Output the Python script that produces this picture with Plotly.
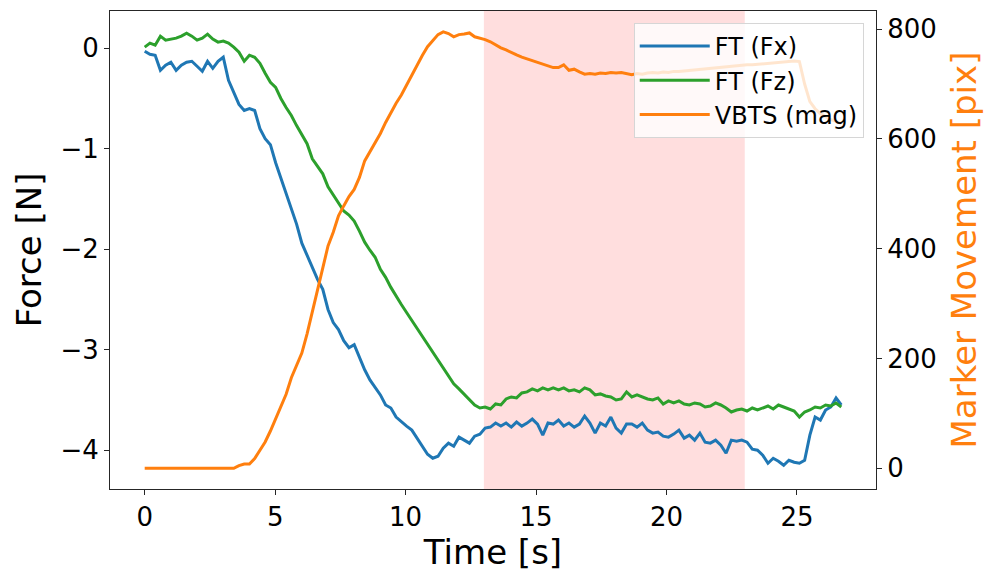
import numpy as np
import plotly.graph_objects as go

# Sample times [s], one every ~0.2 s over the recording
time_s = np.linspace(0.0, 26.7, 134)

# Force/torque sensor, x component [N]
fx = [
    -0.03, -0.06, -0.07, -0.22, -0.17, -0.14, -0.22, -0.17, -0.14, -0.13,
    -0.18, -0.23, -0.13, -0.20, -0.13, -0.09, -0.32, -0.45, -0.56, -0.62,
    -0.60, -0.62, -0.80, -0.90, -0.96, -1.14, -1.29, -1.45, -1.61, -1.75,
    -1.94, -2.06, -2.17, -2.30, -2.40, -2.60, -2.73, -2.80, -2.91, -2.98,
    -2.95, -3.08, -3.20, -3.30, -3.38, -3.45, -3.55, -3.58, -3.67, -3.72,
    -3.76, -3.80, -3.88, -3.97, -4.04, -4.08, -4.06, -3.98, -3.93, -3.96,
    -3.87, -3.90, -3.93, -3.86, -3.84, -3.78, -3.77, -3.73, -3.76, -3.73,
    -3.77, -3.72, -3.76, -3.73, -3.69, -3.74, -3.85, -3.73, -3.74, -3.70,
    -3.76, -3.73, -3.77, -3.74, -3.66, -3.73, -3.83, -3.73, -3.76, -3.67,
    -3.78, -3.83, -3.74, -3.74, -3.77, -3.73, -3.80, -3.83, -3.82, -3.86,
    -3.87, -3.84, -3.80, -3.88, -3.85, -3.90, -3.83, -3.92, -3.93, -3.90,
    -3.95, -4.03, -3.90, -3.91, -3.90, -3.92, -3.99, -4.00, -4.05, -4.13,
    -4.08, -4.11, -4.15, -4.10, -4.12, -4.13, -4.10, -3.85, -3.67, -3.70,
    -3.60, -3.57, -3.48, -3.55,
]

# Force/torque sensor, z component [N]
fz = [
    0.01, 0.05, 0.03, 0.12, 0.08, 0.09, 0.10, 0.12, 0.15, 0.12,
    0.08, 0.10, 0.14, 0.09, 0.06, 0.07, 0.05, 0.01, -0.04, -0.13,
    -0.07, -0.09, -0.15, -0.25, -0.34, -0.39, -0.50, -0.59, -0.67, -0.77,
    -0.86, -0.95, -1.10, -1.18, -1.25, -1.38, -1.46, -1.55, -1.62, -1.66,
    -1.72, -1.82, -1.93, -2.01, -2.08, -2.20, -2.28, -2.38, -2.47, -2.55,
    -2.63, -2.71, -2.79, -2.87, -2.95, -3.02, -3.10, -3.18, -3.26, -3.34,
    -3.39, -3.44, -3.50, -3.55, -3.58, -3.57, -3.59, -3.54, -3.55, -3.49,
    -3.47, -3.48, -3.43, -3.42, -3.39, -3.41, -3.38, -3.40, -3.38, -3.40,
    -3.38, -3.41, -3.40, -3.42, -3.38, -3.40, -3.45, -3.44, -3.46, -3.47,
    -3.50, -3.49, -3.42, -3.47, -3.45, -3.47, -3.49, -3.50, -3.48, -3.54,
    -3.51, -3.53, -3.51, -3.54, -3.55, -3.53, -3.54, -3.57, -3.56, -3.53,
    -3.55, -3.58, -3.62, -3.60, -3.59, -3.61, -3.58, -3.60, -3.58, -3.56,
    -3.59, -3.55, -3.57, -3.59, -3.61, -3.67, -3.62, -3.60, -3.57, -3.58,
    -3.55, -3.56, -3.53, -3.57,
]

# Vision-based tactile sensor, marker displacement magnitude [pix]
vbts_mag = [
    0, 0, 0, 0, 0, 0, 0, 0, 0, 0,
    0, 0, 0, 0, 0, 0, 0, 0, 5, 8,
    8, 18, 33, 48, 68, 90, 110, 135, 165, 188,
    210, 245, 285, 325, 365, 405, 430, 460, 478, 495,
    508, 530, 560, 577, 592, 610, 630, 648, 665, 680,
    698, 716, 735, 752, 768, 780, 790, 795, 792, 786,
    790, 791, 793, 786, 784, 781, 777, 771, 766, 762,
    757, 753, 749, 746, 742, 740, 736, 733, 730, 730,
    735, 725, 727, 722, 718, 719, 718, 720, 719, 721,
    720, 721, 719, 717, 719, 718, 720, 721, 720, 722,
    721, 723, 723, 724, 725, 725, 726, 727, 728, 729,
    730, 731, 733, 733, 734, 735, 735, 736, 737, 737,
    738, 739, 741, 742, 742, 741, 700, 668, 655, 646,
    640, 635, 632, 628,
]

# Highlighted time window [s]
window = (13.0, 23.0)

BLUE, GREEN, ORANGE = "#1f77b4", "#2ca02c", "#ff7f0e"
FONT = "DejaVu Sans"
AXIS_COLOR = "#262626"

fig = go.Figure()
fig.add_trace(go.Scatter(x=time_s, y=fx, name="FT (Fx)", mode="lines",
                         line=dict(color=BLUE, width=3)))
fig.add_trace(go.Scatter(x=time_s, y=fz, name="FT (Fz)", mode="lines",
                         line=dict(color=GREEN, width=3)))
fig.add_trace(go.Scatter(x=time_s, y=vbts_mag, name="VBTS (mag)", mode="lines",
                         yaxis="y2", line=dict(color=ORANGE, width=3)))

fig.add_shape(type="rect", xref="x", yref="paper",
              x0=window[0], x1=window[1], y0=0, y1=1,
              fillcolor="rgba(255,0,0,0.13)", line=dict(width=0), layer="below")

axis_common = dict(
    showgrid=False, zeroline=False, showline=True, linecolor=AXIS_COLOR,
    linewidth=1, ticks="outside", ticklen=5, tickwidth=1, tickcolor=AXIS_COLOR,
    tickfont=dict(family=FONT, size=26, color="black"),
)

fig.update_layout(
    width=987, height=572,
    margin=dict(l=110, r=109, t=10, b=83),
    paper_bgcolor="white", plot_bgcolor="white",
    font=dict(family=FONT, color="black"),
    xaxis=dict(
        **axis_common, range=[-1.33, 28.03], tickvals=[0, 5, 10, 15, 20, 25],
        mirror=True,
        title=dict(text="Time [s]", font=dict(family=FONT, size=34), standoff=4),
    ),
    yaxis=dict(
        **axis_common, range=[-4.386, 0.37], tickvals=[-4, -3, -2, -1, 0],
        title=dict(text="Force [N]", font=dict(family=FONT, size=34), standoff=8),
    ),
    yaxis2=dict(
        **axis_common, overlaying="y", side="right", anchor="x",
        range=[-37.6, 833], tickvals=[0, 200, 400, 600, 800],
        title=dict(text="Marker Movement [pix]",
                   font=dict(family=FONT, size=34, color=ORANGE), standoff=16),
    ),
    legend=dict(
        x=0.984, y=0.975, xanchor="right", yanchor="top",
        bgcolor="rgba(255,255,255,0.8)", bordercolor="#d6d6d6", borderwidth=1,
        font=dict(family=FONT, size=24, color="black"),
        itemwidth=70,
    ),
    showlegend=True,
)

fig.write_html("out.html")
